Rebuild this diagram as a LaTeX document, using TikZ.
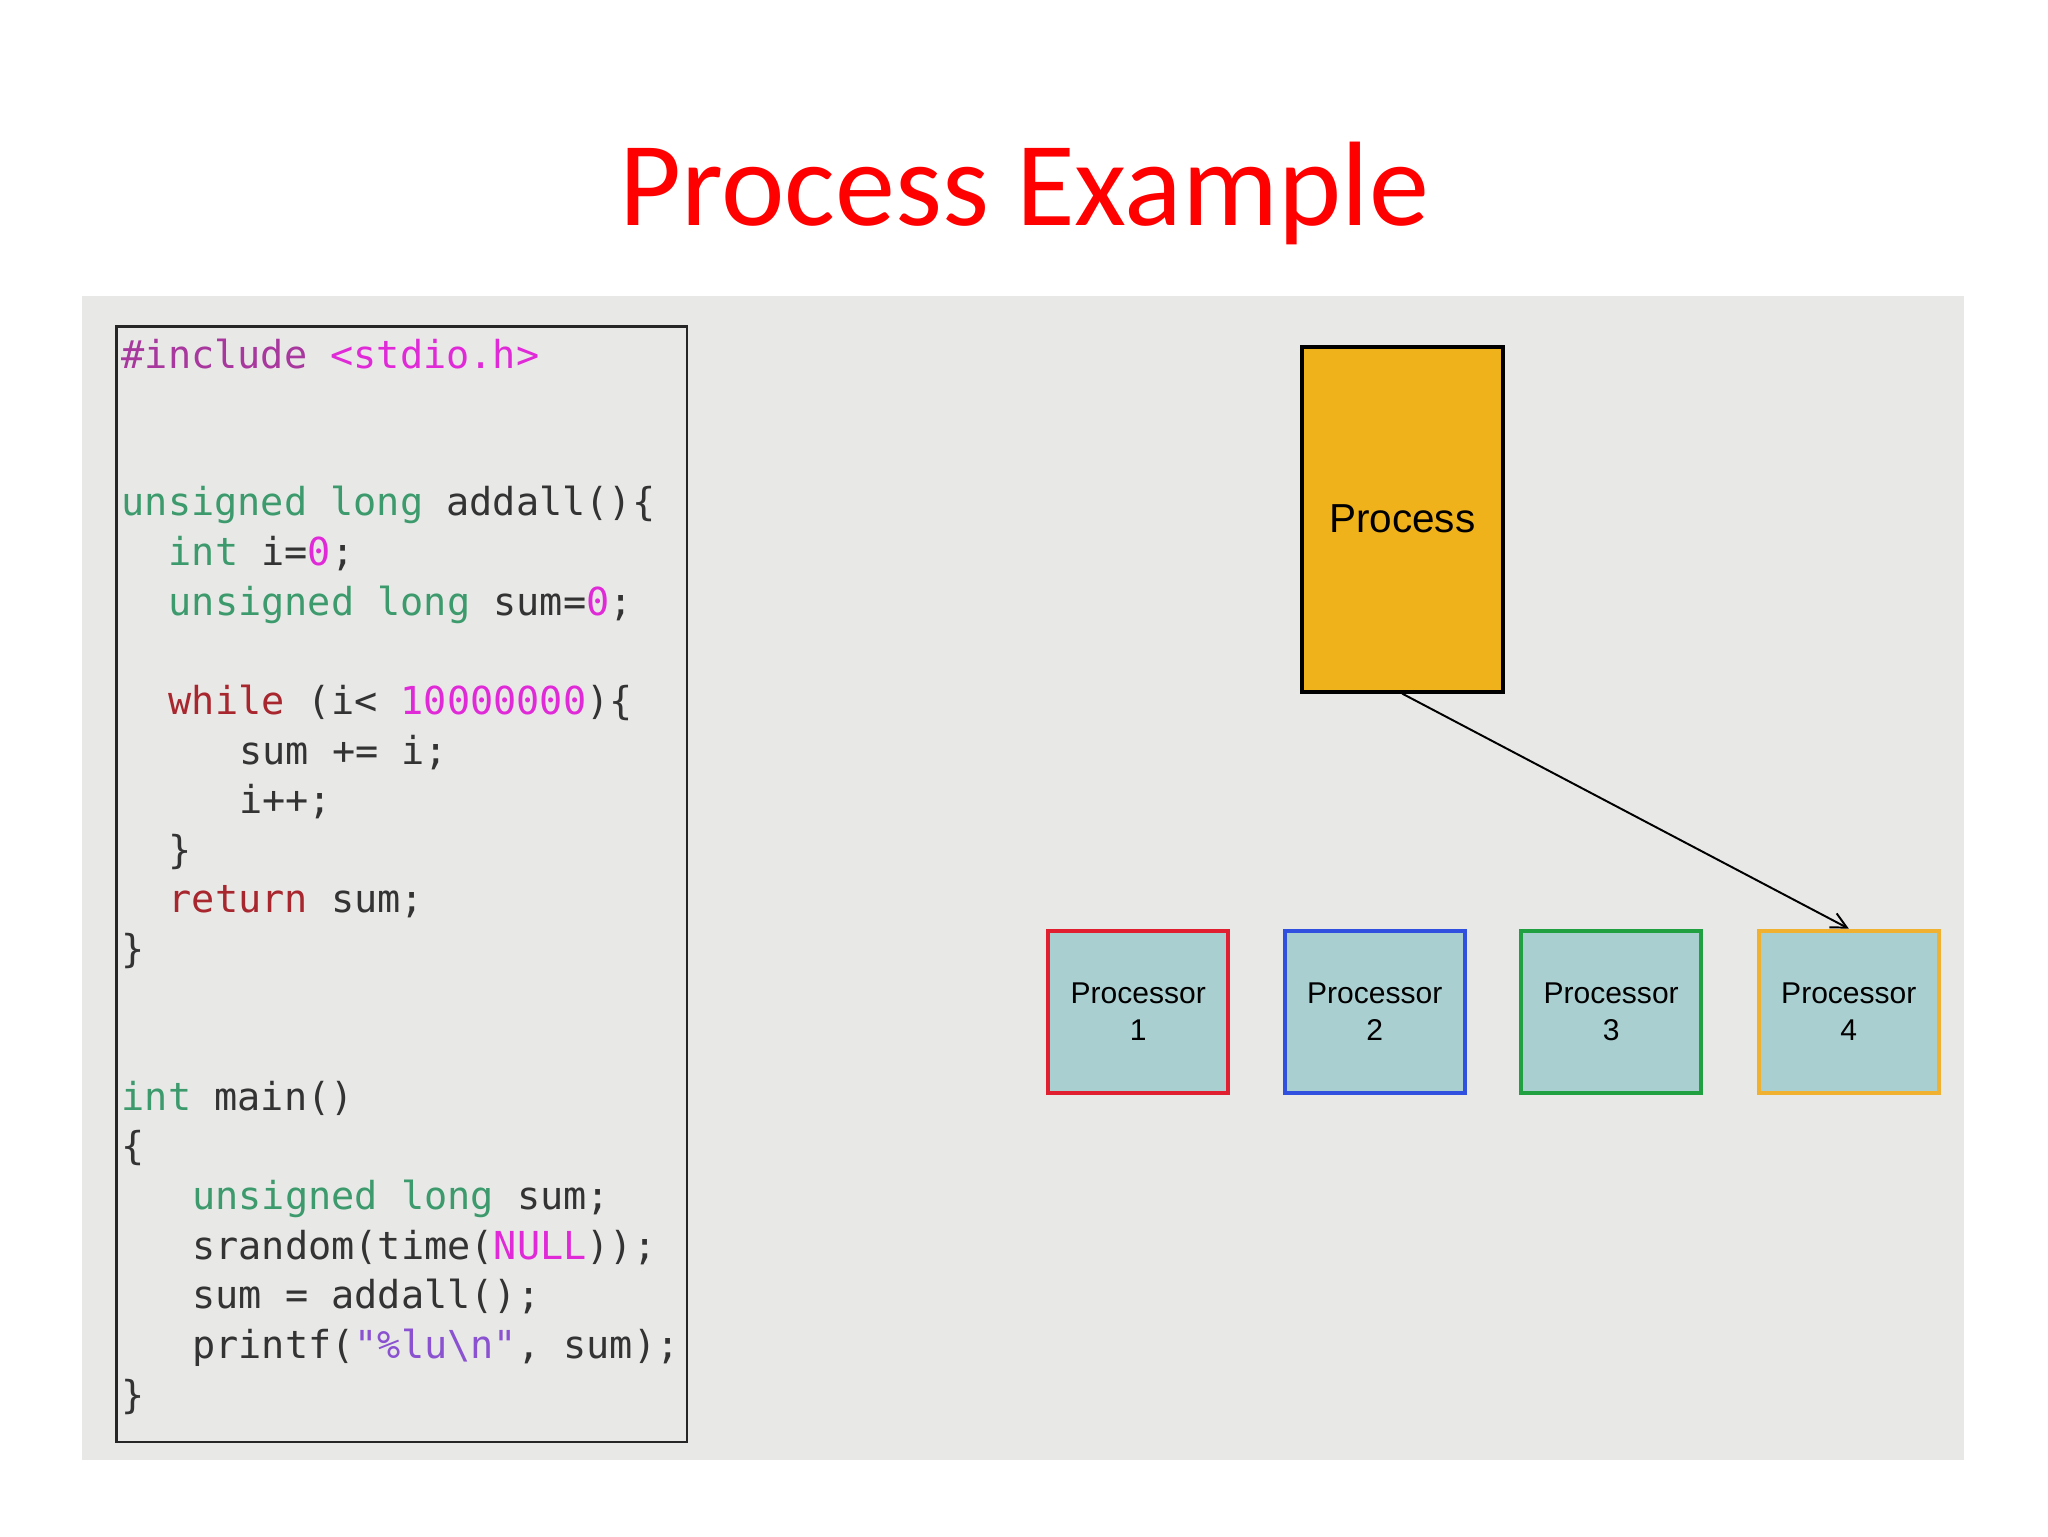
\documentclass[tikz,border=0pt]{standalone}
\usepackage{fontspec}
\usetikzlibrary{arrows.meta}
\setmainfont{Liberation Sans}
\newfontfamily\titlefont{Carlito}
\newfontfamily\codefont{DejaVu Sans Mono}
\definecolor{panel}{HTML}{E8E9E7}
\definecolor{kw}{HTML}{3C9A6C}
\definecolor{ctl}{HTML}{A8262E}
\definecolor{num}{HTML}{E02AD8}
\definecolor{pre}{HTML}{A8389E}
\definecolor{str}{HTML}{8A52D0}
\definecolor{txt}{HTML}{333333}
\definecolor{procfill}{HTML}{F0B21A}
\definecolor{cpu}{HTML}{A9CFD1}
\definecolor{cred}{HTML}{E02030}
\definecolor{cblue}{HTML}{3050E0}
\definecolor{cgreen}{HTML}{20A040}
\definecolor{corange}{HTML}{F0B030}
\begin{document}
\begin{tikzpicture}[x=1pt,y=-1pt,
  code/.style={anchor=base west,inner sep=0pt,font=\codefont\fontsize{29.5}{30}\selectfont,text=txt},
  cpubox/.style={draw,line width=3pt,fill=cpu,minimum width=138pt,minimum height=124pt,inner sep=0pt,anchor=north west,align=center,font=\fontsize{23}{28}\selectfont,text=black}]
\useasboundingbox (0,0) rectangle (1568,1176);
\fill[white] (0,0) rectangle (1568,1176);
\node[text=red,font=\titlefont\fontsize{92}{100}\selectfont] (title) at (784,148) {Process Example};
\fill[panel] (63,227) rectangle (1504,1118);
\draw[line width=2pt,black!85] (89,250) rectangle (526,1104);
\node[code] (l1) at (93,282) {\textcolor{pre}{\#include} \textcolor{num}{<stdio.h>}};
\node[code] (l2) at (93,395) {\textcolor{kw}{unsigned long} addall()\{};
\node[code] (l3) at (129,433) {\textcolor{kw}{int} i=\textcolor{num}{0};};
\node[code] (l4) at (129,471) {\textcolor{kw}{unsigned long} sum=\textcolor{num}{0};};
\node[code] (l5) at (129,547) {\textcolor{ctl}{while} (i< \textcolor{num}{10000000})\{};
\node[code] (l6) at (183,585) {sum += i;};
\node[code] (l7) at (183,623) {i++;};
\node[code] (l8) at (129,661) {\}};
\node[code] (l9) at (129,699) {\textcolor{ctl}{return} sum;};
\node[code] (l10) at (93,737) {\}};
\node[code] (l11) at (93,850) {\textcolor{kw}{int} main()};
\node[code] (l12) at (93,888) {\{};
\node[code] (l13) at (147,926) {\textcolor{kw}{unsigned long} sum;};
\node[code] (l14) at (147,964) {srandom(time(\textcolor{num}{NULL}));};
\node[code] (l15) at (147,1002) {sum = addall();};
\node[code] (l16) at (147,1040) {printf(\textcolor{str}{"\%lu\textbackslash n"}, sum);};
\node[code] (l17) at (93,1078) {\}};
\node[draw,line width=3pt,fill=procfill,minimum width=154pt,minimum height=264pt,inner sep=0pt,font=\fontsize{31}{36}\selectfont] (proc) at (1073.5,397.5) {Process};
\node[cpubox,draw=cred] (p1) at (801,711) {Processor\\1};
\node[cpubox,draw=cblue] (p2) at (982,711) {Processor\\2};
\node[cpubox,draw=cgreen] (p3) at (1163,711) {Processor\\3};
\node[cpubox,draw=corange] (p4) at (1345,711) {Processor\\4};
\draw[line width=1.5pt,-{Straight Barb[length=12pt,width=12pt]}] (proc.south) -- (p4.north);
\end{tikzpicture}
\end{document}
